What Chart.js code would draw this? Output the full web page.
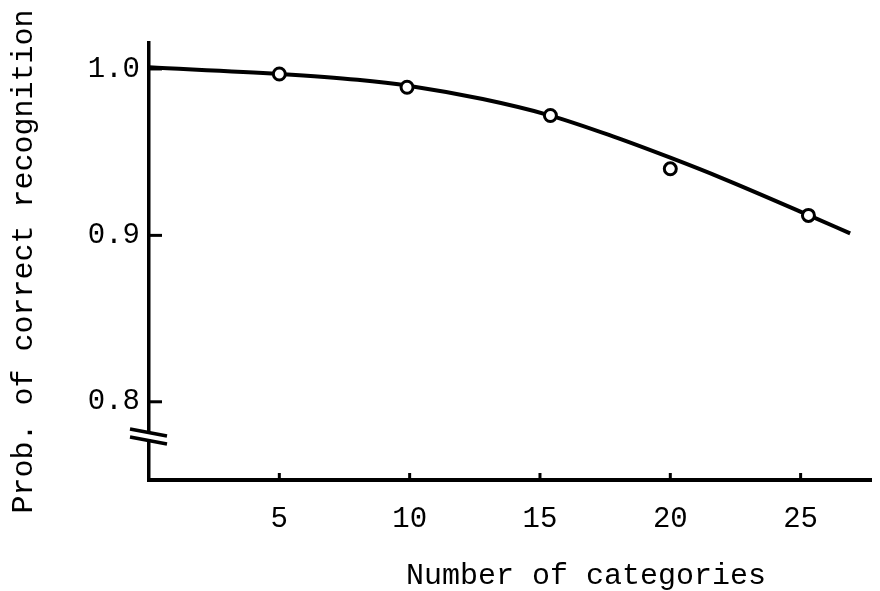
<!DOCTYPE html>
<html>
<head>
<meta charset="utf-8">
<title>Prob. of correct recognition</title>
<script src="https://cdn.jsdelivr.net/npm/chart.js@4/dist/chart.umd.min.js"></script>
<style>
    html, body { margin: 0; padding: 0; background: #fff; overflow: hidden; }
    #wrap { width: 880px; height: 591px; }
</style>
</head>
<body>
<div id="wrap"><canvas id="chart" width="880" height="591"></canvas></div>
<script>
// --- dados ---
const obsX = [5, 9.9, 15.4, 20, 25.3];
const obsY = [0.997, 0.989, 0.972, 0.940, 0.912];

// curva ajustada (tracada a mao no original)
const curveX = [0, 5, 8, 10, 12.8, 15.4, 17.8, 20, 22, 25.3, 26.9];
const curveY = [1.001, 0.997, 0.9935, 0.9898, 0.9819, 0.972, 0.9595, 0.9467, 0.9343, 0.9122, 0.9012];

const xTicks = [5, 10, 15, 20, 25];
const yTicks = [0.8, 0.9, 1.0];
const yTickLabels = ['0.8', '0.9', '1.0'];

const xTitle = 'Number of categories';
const yTitle = 'Prob. of correct recognition';

const FONT = '"Liberation Mono", "Courier New", monospace';
const INK = '#000';

// marcas internas, quebra do eixo y e titulo do eixo x
const axisDecor = {
    id: 'axisDecor',
    afterDraw(chart) {
        const ctx = chart.ctx;
        const x = chart.scales.x;
        const y = chart.scales.y;
        const area = chart.chartArea;

        ctx.save();
        ctx.strokeStyle = INK;
        ctx.lineCap = 'butt';

        // ticks do eixo x (pequenos, para dentro)
        ctx.lineWidth = 3;
        xTicks.forEach(v => {
            const px = x.getPixelForValue(v);
            ctx.beginPath();
            ctx.moveTo(px, area.bottom);
            ctx.lineTo(px, area.bottom - 7);
            ctx.stroke();
        });

        // ticks do eixo y
        yTicks.forEach(v => {
            const py = y.getPixelForValue(v);
            ctx.beginPath();
            ctx.moveTo(area.left, py);
            ctx.lineTo(area.left + 13, py);
            ctx.stroke();
        });

        // quebra "//" no eixo y
        const by = area.bottom - 42;
        ctx.fillStyle = '#fff';
        ctx.fillRect(area.left - 3, by - 6, 6, 7);
        ctx.lineWidth = 3.5;
        [[-1, 0], [7, 8]].forEach(([a, b]) => {
            ctx.beginPath();
            ctx.moveTo(area.left - 19, by - 8 + a);
            ctx.lineTo(area.left + 18, by - 2 + b);
            ctx.stroke();
        });

        // titulo do eixo x (deslocado para a direita no original)
        ctx.fillStyle = INK;
        ctx.font = '30px ' + FONT;
        ctx.textAlign = 'left';
        ctx.textBaseline = 'alphabetic';
        ctx.fillText(xTitle, 406, 584);

        ctx.restore();
    }
};

new Chart(document.getElementById('chart').getContext('2d'), {
    type: 'scatter',
    data: {
        datasets: [{
            label: 'observed',
            data: obsX.map((v, i) => ({ x: v, y: obsY[i] })),
            pointStyle: 'circle',
            pointRadius: 6,
            pointBorderWidth: 3,
            pointBackgroundColor: '#fff',
            pointBorderColor: INK,
            showLine: false,
            order: 0
        }, {
            label: 'fit',
            data: curveX.map((v, i) => ({ x: v, y: curveY[i] })),
            showLine: true,
            borderColor: INK,
            borderWidth: 4,
            pointRadius: 0,
            cubicInterpolationMode: 'monotone',
            order: 1
        }]
    },
    options: {
        responsive: false,
        animation: false,
        events: [],
        layout: { padding: { top: 43, left: 0, right: 0, bottom: 0 } },
        plugins: {
            legend: { display: false },
            tooltip: { enabled: false }
        },
        scales: {
            x: {
                type: 'linear',
                min: 0,
                max: 27.7,
                afterFit: s => { s.height = 111; },
                afterBuildTicks: s => { s.ticks = xTicks.map(v => ({ value: v })); },
                grid: { display: true, drawOnChartArea: false, drawTicks: false },
                border: { display: true, color: INK, width: 4 },
                ticks: {
                    color: INK,
                    padding: 22,
                    font: { family: FONT, size: 29 },
                    callback: v => String(v)
                }
            },
            y: {
                type: 'linear',
                min: 0.753,
                max: 1.0156,
                afterFit: s => { s.width = 149; },
                afterBuildTicks: s => { s.ticks = yTicks.map(v => ({ value: v })); },
                grid: { display: true, drawOnChartArea: false, drawTicks: false },
                border: { display: true, color: INK, width: 3.5 },
                ticks: {
                    color: INK,
                    padding: 9,
                    font: { family: FONT, size: 29 },
                    callback: v => yTickLabels[yTicks.findIndex(t => Math.abs(t - v) < 1e-9)]
                },
                title: {
                    display: true,
                    text: yTitle,
                    color: INK,
                    padding: { top: 6, bottom: 0 },
                    font: { family: FONT, size: 30 }
                }
            }
        }
    },
    plugins: [axisDecor]
});
</script>
</body>
</html>
